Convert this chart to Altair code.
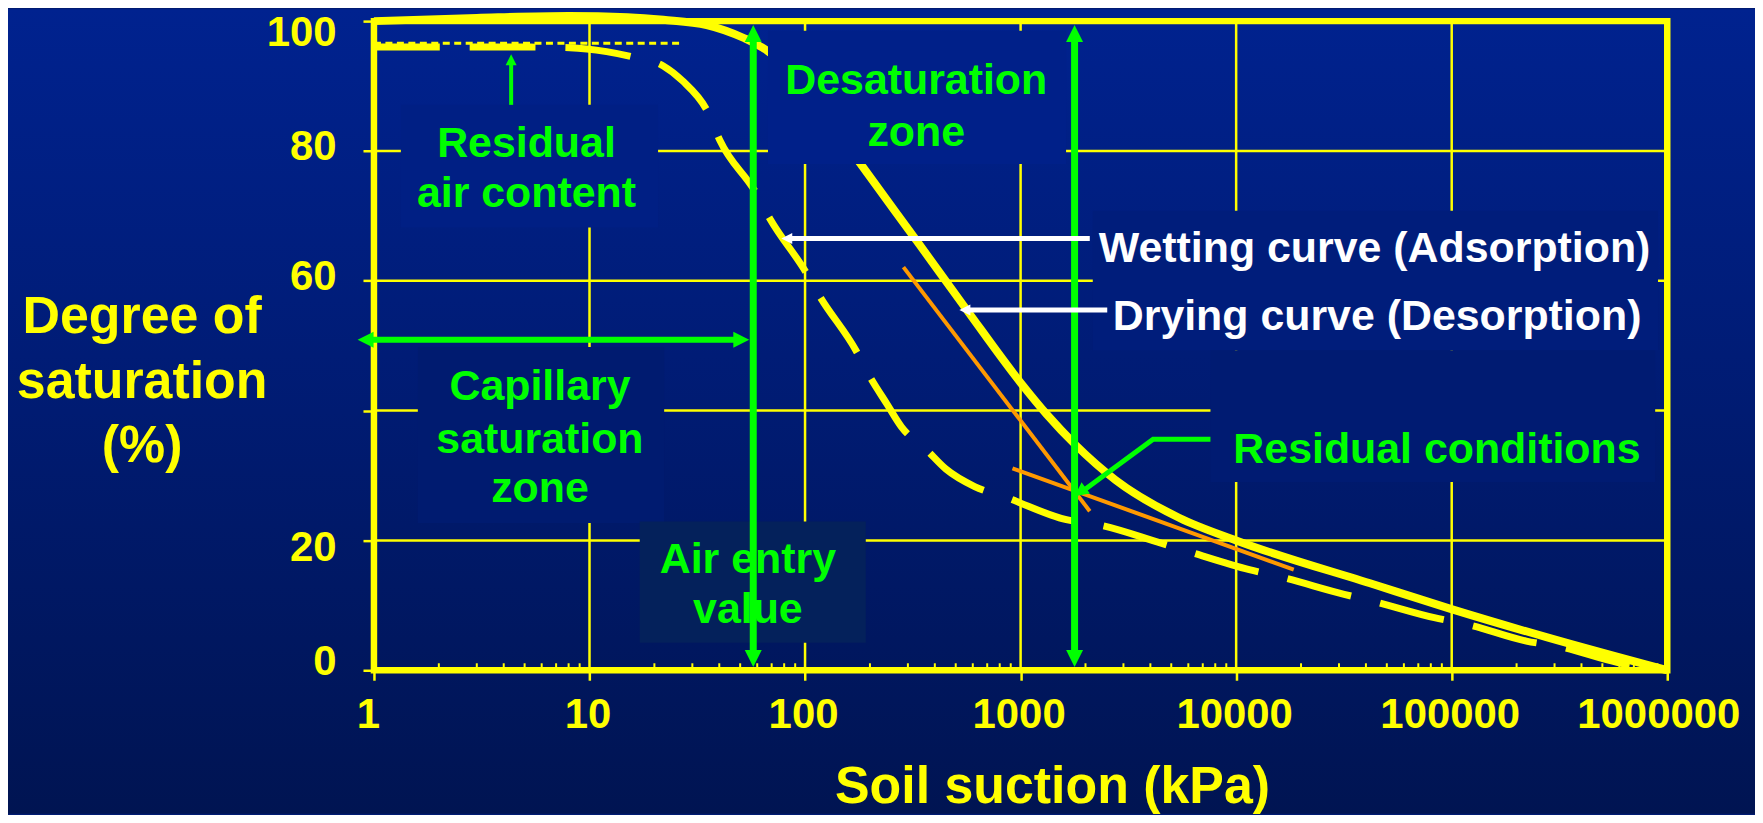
import altair as alt
import pandas as pd

# ---------------- data ----------------
x_tick_values = [1, 10, 100, 1000, 10000, 100000, 1000000]
y_tick_values = [0, 20, 40, 60, 80, 100]
x_grid_values = [10, 100, 1000, 10000, 100000]
y_grid_values = [20, 40, 60, 80]
minor_tick_values = [m * 10 ** k for k in range(6) for m in range(2, 10)]

# drying curve (desorption) - solid
drying_suction = [1, 3, 8, 15, 22, 35, 52, 67, 90, 125, 181, 339, 563, 1000, 1324,
                  1800, 2760, 5430, 10000, 43600, 98000, 275000, 1000000]
drying_sat = [100, 100.5, 100.8, 100.6, 100.2, 99.4, 97.4, 95.4, 91.5, 85.5, 78, 65.6,
              55.5, 44.3, 39.4, 34.7, 29.3, 23.5, 20.0, 13.2, 9.5, 5.1, 0]

# wetting curve (adsorption) - dashed
wetting_suction = [1, 5, 8.1, 12, 16.2, 22, 27, 35.5, 40.3, 59, 68.6, 101, 117, 172, 200,
                   240, 280, 365, 450, 612, 860, 1630, 2300, 4370, 6000, 11500, 16400,
                   31700, 43500, 83000, 117000, 222000, 310000, 590000, 1000000]
wetting_sat = [96, 96, 95.9, 95.3, 94.4, 93.1, 90.8, 85.9, 81.6, 73.6, 69.6, 61.3, 57.6,
               49.3, 45.2, 41, 37.5, 34, 31, 28.3, 26.6, 23.2, 22.4, 19.7, 18.3, 15.5,
               14.3, 11.7, 10.6, 8.1, 7.1, 4.5, 3.7, 1.2, 0]

# residual air content reference (thin dotted)
resid_air_x = [1]
resid_air_x2 = [26.2]
resid_air_y = [96.6]

# orange tangent lines
tangent_x = [286, 917]
tangent_x2 = [2094, 18500]
tangent_y = [62.1, 31.1]
tangent_y2 = [24.5, 15.5]

# label boxes (background patches behind annotations)
box_x = [1.333, 67.3, 1.598, 17.1, 2162, 7600]
box_x2 = [20.8, 1625, 22.2, 191.3, 906000, 879000]
box_y = [68.2, 78.0, 22.7, 4.25, 49.3, 29.0]
box_y2 = [87.1, 98.5, 49.8, 22.9, 70.8, 49.3]

# green vertical arrows (air entry value, residual conditions)
vert_arrow_x = [57.5, 1780]
vert_arrow_y = [1.9, 1.9]
vert_arrow_y2 = [97.9, 97.9]
# capillary saturation zone double arrow
cap_arrow_x = [0.924]
cap_arrow_x2 = [50.1]
cap_arrow_y = [50.9]
# residual air content arrow
air_arrow_x = [4.33]
air_arrow_y = [87.1]
air_arrow_y2 = [93.7]
# residual conditions leader
leader_x = [7600, 4120, 1944]
leader_y = [35.6, 35.6, 27.6]
# white pointers
white_x = [85, 572]
white_x2 = [2094, 2523]
white_y = [66.5, 55.5]

# arrow heads (tip positions)
head_x = [57.5, 57.5, 1780, 1780, 0.84, 55.1, 4.33, 1780, 77.6, 520]
head_y = [99.4, 0.5, 99.4, 0.5, 50.9, 50.9, 94.9, 26.8, 66.5, 55.5]
head_dir = [0, 180, 0, 180, 270, 90, 0, 233, 270, 270]

# annotation texts
center_text = ["Residual", "air content", "Desaturation", "zone", "Capillary",
               "saturation", "zone", "Air entry", "value"]
center_x = [5.1, 5.1, 328, 328, 5.89, 5.89, 5.89, 54.3, 54.3]
center_y = [79.0, 71.3, 88.7, 80.8, 41.6, 33.4, 25.9, 15.0, 7.3]

left_text = ["Wetting curve (Adsorption)", "Drying curve (Desorption)", "Residual conditions"]
left_x = [2305, 2676, 9706]
left_y = [62.9, 52.4, 31.9]

# ---------------- styles ----------------
YEL = "#FFFF00"
GRN = "#00FF00"
WHT = "#FFFFFF"
ORG = "#FF9900"
FONT = "Liberation Sans"
W, H = 1297, 651
PAD_L, PAD_T, PAD_R, PAD_B = 367, 12, 88, 144

BG_STOPS = [(0.0, (0, 34, 143)), (0.5, (0, 27, 114)), (1.0, (0, 20, 82))]


def bg_at(t):
    t = max(0.0, min(1.0, t))
    for (o1, c1), (o2, c2) in zip(BG_STOPS[:-1], BG_STOPS[1:]):
        if o1 <= t <= o2:
            f = (t - o1) / (o2 - o1)
            c = [round(a + (b - a) * f) for a, b in zip(c1, c2)]
            return "#%02x%02x%02x" % tuple(c)
    return "#001452"


def box_color(y1, y2):
    page_y = PAD_T + 8 + (100 - (y1 + y2) / 2) / 100 * H
    return bg_at((page_y - 8) / (H + PAD_T + PAD_B))


box_colors = [box_color(a, b) for a, b in zip(box_y, box_y2)]
box_colors[3] = "#04215b"  # "Air entry value" box is visibly tinted

head_colors = [GRN] * 8 + [WHT] * 2
head_sizes = [289, 289, 289, 289, 256, 256, 121, 196, 121, 121]

xs = alt.Scale(type="log", domain=[1, 1000000], nice=False)
ys = alt.Scale(domain=[0, 100], nice=False, zero=False)

ax_x = alt.Axis(
    values=x_tick_values, format="d", grid=False, domain=False,
    tickSize=10, tickWidth=2.5, tickColor=YEL,
    labelFont=FONT, labelFontSize=42, labelFontWeight="bold", labelColor=YEL,
    labelPadding=14, labelOverlap=False, labelFlush=False, labelBaseline="top",
    labelOffset={"condition": [{"test": "datum.value == 1", "value": -6},
                               {"test": "datum.value == 1000000", "value": -9}],
                 "value": -2},
    title="Soil suction (kPa)", titleFont=FONT, titleFontSize=52, titleFontWeight="bold",
    titleColor=YEL, titleX=680, titleY=133, titleAlign="center", titleBaseline="alphabetic",
    zindex=1,
)
ax_y = alt.Axis(
    values=y_tick_values, grid=False, domain=False,
    tickSize=11, tickWidth=2.5, tickColor=YEL,
    labelFont=FONT, labelFontSize=42, labelFontWeight="bold", labelColor=YEL,
    labelPadding=27, labelOverlap=False, labelFlush=False, labelBaseline="middle",
    labelAlign="right",
    labelExpr="datum.value == 40 ? '' : datum.label",
    labelOffset={"condition": [{"test": "datum.value == 100", "value": 11},
                               {"test": "datum.value == 20", "value": 7},
                               {"test": "datum.value == 0", "value": -9}],
                 "value": -4},
    title=["Degree of", "saturation", "(%)"], titleAngle=0, titleAlign="center",
    titleBaseline="alphabetic", titleX=-233, titleY=312, titleLineHeight=65,
    titleFont=FONT, titleFontSize=52, titleFontWeight="bold", titleColor=YEL,
    zindex=1,
)


def X(f):
    return alt.X(f, type="quantitative", scale=xs, axis=ax_x)


def Y(f):
    return alt.Y(f, type="quantitative", scale=ys, axis=ax_y)


one = pd.DataFrame({"k": [0]})

bg = alt.Chart(one).mark_rect(
    color=alt.LinearGradient(
        gradient="linear", x1=0, x2=0, y1=0, y2=1,
        stops=[alt.GradientStop(offset=o, color="#%02x%02x%02x" % c) for o, c in BG_STOPS],
    )
).encode(x=alt.value(-PAD_L), x2=alt.value(W + PAD_R), y=alt.value(-PAD_T), y2=alt.value(H + PAD_B))

grid_v = alt.Chart(pd.DataFrame({"x": x_grid_values})).mark_rule(
    color=YEL, strokeWidth=2.5).encode(x=X("x"), y=alt.value(0), y2=alt.value(H))
grid_h = alt.Chart(pd.DataFrame({"y": y_grid_values})).mark_rule(
    color=YEL, strokeWidth=2.5).encode(y=Y("y"), x=alt.value(0), x2=alt.value(W))

border = alt.Chart(one).mark_rect(fillOpacity=0, stroke=YEL, strokeWidth=6.5).encode(
    x=alt.value(0), x2=alt.value(W), y=alt.value(0), y2=alt.value(H))

minor = alt.Chart(pd.DataFrame({"x": minor_tick_values})).mark_rule(
    color=YEL, strokeWidth=2).encode(x=X("x"), y=alt.value(H), y2=alt.value(H - 7))

dotted = alt.Chart(pd.DataFrame({"x": resid_air_x, "x2": resid_air_x2, "y": resid_air_y})).mark_rule(
    color=YEL, strokeWidth=3, strokeDash=[7, 4.5]).encode(x=X("x"), x2="x2:Q", y=Y("y"))

wet = alt.Chart(pd.DataFrame({"x": wetting_suction, "y": wetting_sat})).mark_line(
    color=YEL, strokeWidth=7, strokeDash=[66, 30], interpolate="monotone").encode(x=X("x"), y=Y("y"))
dry = alt.Chart(pd.DataFrame({"x": drying_suction, "y": drying_sat})).mark_line(
    color=YEL, strokeWidth=8, interpolate="monotone").encode(x=X("x"), y=Y("y"))

tang = alt.Chart(pd.DataFrame({"x": tangent_x, "x2": tangent_x2, "y": tangent_y, "y2": tangent_y2})).mark_rule(
    color=ORG, strokeWidth=4).encode(x=X("x"), x2="x2:Q", y=Y("y"), y2="y2:Q")

boxes = alt.Chart(pd.DataFrame({"x": box_x, "x2": box_x2, "y": box_y, "y2": box_y2, "c": box_colors})).mark_rect(
    opacity=1).encode(x=X("x"), x2="x2:Q", y=Y("y"), y2="y2:Q", color=alt.Color("c:N", scale=None))

vert = alt.Chart(pd.DataFrame({"x": vert_arrow_x, "y": vert_arrow_y, "y2": vert_arrow_y2})).mark_rule(
    color=GRN, strokeWidth=7).encode(x=X("x"), y=Y("y"), y2="y2:Q")
cap = alt.Chart(pd.DataFrame({"x": cap_arrow_x, "x2": cap_arrow_x2, "y": cap_arrow_y})).mark_rule(
    color=GRN, strokeWidth=6).encode(x=X("x"), x2="x2:Q", y=Y("y"))
air = alt.Chart(pd.DataFrame({"x": air_arrow_x, "y": air_arrow_y, "y2": air_arrow_y2})).mark_rule(
    color=GRN, strokeWidth=4).encode(x=X("x"), y=Y("y"), y2="y2:Q")
leader = alt.Chart(pd.DataFrame({"x": leader_x, "y": leader_y, "o": list(range(len(leader_x)))})).mark_line(
    color=GRN, strokeWidth=5).encode(x=X("x"), y=Y("y"), order="o:Q")
white = alt.Chart(pd.DataFrame({"x": white_x, "x2": white_x2, "y": white_y})).mark_rule(
    color=WHT, strokeWidth=5).encode(x=X("x"), x2="x2:Q", y=Y("y"))

heads = alt.Chart(pd.DataFrame({"x": head_x, "y": head_y, "a": head_dir, "s": head_sizes, "c": head_colors})).mark_point(
    shape="M0,0L1,2L-1,2Z", filled=True, opacity=1, strokeWidth=0).encode(
    x=X("x"), y=Y("y"), angle=alt.Angle("a:Q", scale=None), size=alt.Size("s:Q", scale=None),
    color=alt.Color("c:N", scale=None))

txt_c = alt.Chart(pd.DataFrame({"x": center_x, "y": center_y, "t": center_text})).mark_text(
    font=FONT, fontSize=43, fontWeight="bold", align="center", baseline="alphabetic", color=GRN).encode(
    x=X("x"), y=Y("y"), text="t:N")
txt_l = alt.Chart(pd.DataFrame({"x": left_x, "y": left_y, "t": left_text, "c": [WHT, WHT, GRN]})).mark_text(
    font=FONT, fontSize=43, fontWeight="bold", align="left", baseline="alphabetic").encode(
    x=X("x"), y=Y("y"), text="t:N", color=alt.Color("c:N", scale=None))

chart = alt.layer(
    bg, grid_v, grid_h, border, minor, dotted, wet, dry, tang, boxes,
    vert, cap, air, leader, white, heads, txt_c, txt_l,
).properties(
    width=W, height=H,
    padding={"left": PAD_L, "top": PAD_T, "right": PAD_R, "bottom": PAD_B},
    autosize=alt.AutoSizeParams(type="none"),
    background="#001b72",
).configure_view(strokeWidth=0)

chart.save("out.html", embed_options={"renderer": "svg", "actions": False})
